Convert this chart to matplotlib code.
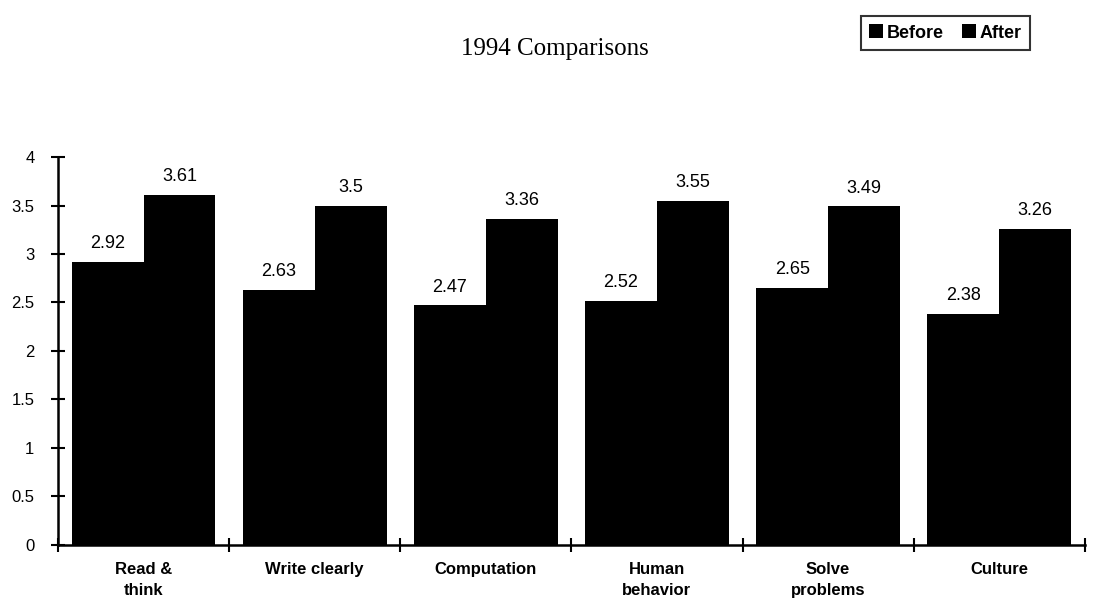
import matplotlib
matplotlib.use('Agg')
import matplotlib.pyplot as plt
import numpy as np

# survey scores before and after, one pair per skill area
categories = ['Read &\nthink', 'Write clearly', 'Computation', 'Human\nbehavior', 'Solve\nproblems', 'Culture']
before = [2.92, 2.63, 2.47, 2.52, 2.65, 2.38]
after = [3.61, 3.5, 3.36, 3.55, 3.49, 3.26]
ytick_vals = [0, 0.5, 1, 1.5, 2, 2.5, 3, 3.5, 4]
ytick_labels = ['0', '0.5', '1', '1.5', '2', '2.5', '3', '3.5', '4']

plt.rcParams['font.family'] = ['Liberation Sans', 'DejaVu Sans']

fig = plt.figure(figsize=(11.16, 6.10), dpi=100)
ax = fig.add_axes([0.052, 0.1066, 0.92, 0.636])

x = np.arange(len(categories))
w = 0.42
bb = ax.bar(x - w/2, before, width=w, color='black', label='Before')
ba = ax.bar(x + w/2, after, width=w, color='black', label='After')

for rect, v in zip(bb, before):
    ax.text(rect.get_x() + rect.get_width()/2, v + 0.1, '%g' % v,
            ha='center', va='bottom', fontsize=13)
for rect, v in zip(ba, after):
    ax.text(rect.get_x() + rect.get_width()/2, v + 0.1, '%g' % v,
            ha='center', va='bottom', fontsize=13)

ax.set_xlim(-0.5, len(categories) - 0.5)
ax.set_ylim(0, 4)
ax.set_yticks(ytick_vals)
ax.set_yticklabels(ytick_labels, fontsize=12)
ax.tick_params(axis='y', direction='inout', length=10, width=1.5, pad=12)

# ticks on the x axis sit between the groups, labels go under each group
ax.set_xticks(np.arange(len(categories) + 1) - 0.5)
ax.set_xticklabels([])
ax.set_xticks(x, minor=True)
ax.set_xticklabels(categories, minor=True, fontsize=12, fontweight='bold', linespacing=1.55)
ax.tick_params(axis='x', which='major', direction='inout', length=10, width=1.5)
ax.tick_params(axis='x', which='minor', length=0, pad=12)

for side in ['top', 'right']:
    ax.spines[side].set_visible(False)
ax.spines['left'].set_linewidth(1.8)
ax.spines['bottom'].set_linewidth(1.8)

fig.text(0.497, 0.92, '1994 Comparisons', ha='center', va='center',
         fontsize=18, family='Liberation Serif')

leg = fig.legend(handles=[bb, ba], labels=['Before', 'After'], loc='upper right',
                 bbox_to_anchor=(0.931, 0.988), ncol=2, frameon=True, fancybox=False,
                 edgecolor='black', prop={'size': 13, 'weight': 'bold'},
                 handlelength=0.8, handleheight=0.8, handletextpad=0.2,
                 columnspacing=1.0, borderpad=0.45)
leg.get_frame().set_linewidth(1.5)

plt.savefig('out.png', dpi=100)
